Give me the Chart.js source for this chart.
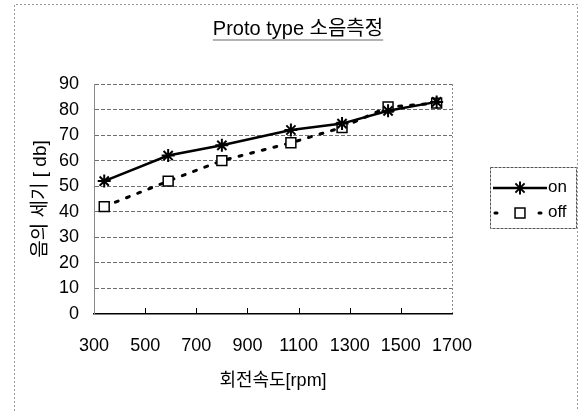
<!DOCTYPE html>
<html>
<head>
<meta charset="utf-8">
<script src="https://cdn.jsdelivr.net/npm/chart.js@4.4.0/dist/chart.umd.min.js"></script>
<style>
  body { margin: 0; background: #fff; }
  #wrap { width: 582px; height: 411px; }
</style>
</head>
<body>
<div id="wrap"><canvas id="noise" width="582" height="411"></canvas></div>
<script>
const rpmOn = [340, 590, 800, 1070, 1270, 1450, 1640];
const dbOn = [52, 62, 66, 72, 74.5, 79.5, 83];
const rpmOff = [340, 590, 800, 1070, 1270, 1450, 1640];
const dbOff = [42, 52, 60, 67, 73, 81, 82.5];
const seriesNames = ['on', 'off'];
const chartTitle = 'Proto type 소음측정';
const xTitle = '회전속도[rpm]';
const yTitle = '음의 세기 [ db]';

const FONT = "'Liberation Sans', 'Noto Sans CJK KR', sans-serif";

const toPoints = (xs, ys) => xs.map((x, i) => ({ x: x, y: ys[i] }));

// outer frame + underlined title
const framePlugin = {
  id: 'frame',
  beforeDraw(chart) {
    const ctx = chart.ctx;
    ctx.save();
    ctx.strokeStyle = '#9a9a9a';
    ctx.lineWidth = 1;
    ctx.setLineDash([2, 2]);
    ctx.beginPath();
    ctx.moveTo(14.5, 411);
    ctx.lineTo(14.5, 4.5);
    ctx.lineTo(577.5, 4.5);
    ctx.lineTo(577.5, 411);
    ctx.stroke();
    ctx.setLineDash([]);

    ctx.font = '20px ' + FONT;
    ctx.fillStyle = '#000';
    ctx.textAlign = 'center';
    ctx.textBaseline = 'middle';
    ctx.fillText(chartTitle, 298, 29);
    const w = ctx.measureText(chartTitle).width;
    ctx.lineWidth = 1.5;
    ctx.beginPath();
    ctx.moveTo(298 - w / 2, 40);
    ctx.lineTo(298 + w / 2, 40);
    ctx.stroke();
    ctx.restore();
  },
  afterDraw(chart) {
    const ctx = chart.ctx;
    const xs = chart.scales.x;
    const bottom = chart.chartArea.bottom;
    ctx.save();
    // small inner tick marks on the x axis
    ctx.strokeStyle = '#000';
    ctx.lineWidth = 1;
    xs.ticks.slice(1, -1).forEach(t => {
      const px = Math.round(xs.getPixelForValue(t.value)) + 0.5;
      ctx.beginPath();
      ctx.moveTo(px, bottom);
      ctx.lineTo(px, bottom - 6);
      ctx.stroke();
    });

    // boxed legend with line + marker samples
    ctx.strokeStyle = '#555';
    ctx.lineWidth = 1;
    ctx.setLineDash([3, 1]);
    ctx.strokeRect(490.5, 167.5, 86, 61);
    ctx.setLineDash([]);
    chart.data.datasets.forEach((ds, i) => {
      const y = 188 + i * 25;
      ctx.strokeStyle = '#000';
      ctx.lineWidth = ds.borderWidth;
      ctx.lineCap = ds.borderCapStyle || 'butt';
      ctx.beginPath();
      if (ds.borderDash) {
        ctx.setLineDash([2, 20]);
        ctx.moveTo(495, y);
        ctx.lineTo(545, y);
      } else {
        ctx.moveTo(493, y);
        ctx.lineTo(547, y);
      }
      ctx.stroke();
      ctx.setLineDash([]);
      ctx.lineCap = 'butt';
      ctx.fillStyle = ds.pointBackgroundColor;
      ctx.strokeStyle = ds.pointBorderColor;
      ctx.lineWidth = ds.pointBorderWidth;
      Chart.helpers.drawPoint(ctx, {
        pointStyle: ds.pointStyle, radius: ds.pointRadius,
        rotation: 0, borderWidth: ds.pointBorderWidth
      }, 520, y);
      ctx.fillStyle = '#000';
      ctx.font = '17px ' + FONT;
      ctx.textAlign = 'left';
      ctx.textBaseline = 'middle';
      ctx.fillText(ds.label, 548, y - 1);
    });
    ctx.restore();
  }
};

new Chart(document.getElementById('noise'), {
  type: 'line',
  data: {
    datasets: [
      {
        label: seriesNames[0],
        data: toPoints(rpmOn, dbOn),
        borderColor: '#000',
        borderWidth: 2.5,
        pointStyle: 'star',
        pointRadius: 6.5,
        pointBorderWidth: 2,
        pointBorderColor: '#000',
        pointBackgroundColor: '#000',
        tension: 0
      },
      {
        label: seriesNames[1],
        data: toPoints(rpmOff, dbOff),
        borderColor: '#000',
        borderWidth: 3,
        borderDash: [3, 9],
        borderCapStyle: 'round',
        pointStyle: 'rect',
        pointRadius: 7,
        pointBorderWidth: 1.5,
        pointBorderColor: '#000',
        pointBackgroundColor: '#fff',
        tension: 0
      }
    ]
  },
  options: {
    responsive: false,
    animation: false,
    events: [],
    layout: { padding: { left: 0, right: 130, top: 84, bottom: 0 } },
    plugins: {
      legend: { display: false },
      title: { display: false },
      tooltip: { enabled: false }
    },
    scales: {
      x: {
        type: 'linear',
        min: 300,
        max: 1700,
        afterFit: s => { s.height = 97; },
        ticks: {
          stepSize: 200,
          color: '#000',
          padding: 21,
          maxRotation: 0,
          callback: v => String(v),
          font: { family: FONT, size: 18 }
        },
        grid: {
          drawTicks: false,
          color: c => (c.index === 7 ? '#8a8a8a' : 'rgba(0,0,0,0)')
        },
        border: { color: '#000', width: 1.5, dash: [2, 2] },
        title: {
          display: true,
          text: xTitle,
          color: '#000',
          padding: { top: 0, bottom: 19 },
          font: { family: FONT, size: 18 }
        }
      },
      y: {
        min: 0,
        max: 90,
        afterFit: s => { s.width = 94; },
        ticks: {
          stepSize: 10,
          color: '#000',
          padding: 15,
          font: { family: FONT, size: 18 }
        },
        grid: {
          drawTicks: false,
          color: c => (c.tick.value === 0 ? 'rgba(0,0,0,0)' : '#6e6e6e')
        },
        border: { color: '#8a8a8a', width: 1, dash: [4, 2] },
        title: {
          display: true,
          text: yTitle,
          color: '#000',
          padding: { top: 29, bottom: 0 },
          font: { family: FONT, size: 19 }
        }
      }
    }
  },
  plugins: [framePlugin]
});
</script>
</body>
</html>
